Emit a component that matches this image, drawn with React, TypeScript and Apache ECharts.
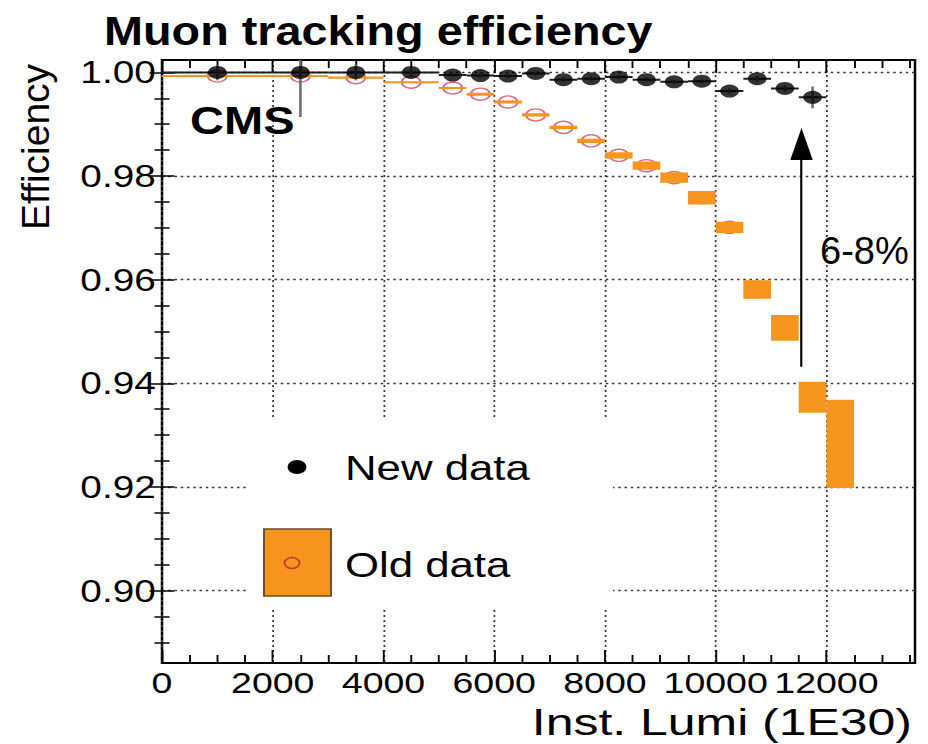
import React, { useEffect, useRef } from 'react';
import * as echarts from 'echarts';

// The figure is laid out on a narrower canvas and widened with a CSS scaleX,
// which gives the wide glyphs and oval markers of the original ROOT plot.
const STRETCH = 1.25;
const FIG_W = 928 / STRETCH;
const FIG_H = 744;
const sx = (v: number) => v / STRETCH;

const FONT = '"Liberation Sans", Arial, Helvetica, sans-serif';
const ORANGE = '#f7941e';
const RED = '#d9485a';

// ---------------- data ----------------
// Instantaneous luminosity bins (1E30 cm^-2 s^-1)
const binLow = [0, 2000, 3000, 4000, 5000, 5500, 6000, 6500, 7000, 7500, 8000, 8500, 9000, 9500, 10000, 10500, 11000, 11500, 12000];
const binHigh = [2000, 3000, 4000, 5000, 5500, 6000, 6500, 7000, 7500, 8000, 8500, 9000, 9500, 10000, 10500, 11000, 11500, 12000, 12500];
const lumi = [1000, 2500, 3500, 4500, 5250, 5750, 6250, 6750, 7250, 7750, 8250, 8750, 9250, 9750, 10250, 10750, 11250, 11750, 12250];

// New data: tracking efficiency and its uncertainty per bin
const newEff = [1.0, 1.0, 1.0, 1.0, 0.9995, 0.9994, 0.9993, 0.9998, 0.9986, 0.9988, 0.9991, 0.9986, 0.9982, 0.9983, 0.9964, 0.9988, 0.9969, 0.9952];
const newErr = [0.0015, 0.0086, 0.0015, 0.0008, 0.0004, 0.0004, 0.0004, 0.0004, 0.0004, 0.0004, 0.0004, 0.0004, 0.0004, 0.0004, 0.0005, 0.0005, 0.0006, 0.0021];

// Old data: tracking efficiency and its uncertainty per bin
const oldEff = [0.9993, 0.9993, 0.999, 0.9981, 0.997, 0.9958, 0.9943, 0.9918, 0.9894, 0.9868, 0.984, 0.982, 0.9797, 0.9758, 0.9701, 0.9581, 0.9507, 0.9373, 0.9283];
const oldErr = [0.0002, 0.0002, 0.0002, 0.0002, 0.0002, 0.0003, 0.0003, 0.0003, 0.0003, 0.0004, 0.0006, 0.0008, 0.001, 0.0013, 0.0011, 0.0018, 0.0025, 0.003, 0.0085];

// ---------------- axes ----------------
const X_MIN = 0;
const X_MAX = 13600;
const Y_MIN = 0.886;
const Y_MAX = 1.0024;
const xTickLabels = [0, 2000, 4000, 6000, 8000, 10000, 12000];
const yTickLabels = [0.9, 0.92, 0.94, 0.96, 0.98, 1.0];
const X_MINOR_STEP = 500;
const Y_MINOR_STEP = 0.005;

// Gap annotation between the two data sets
const gapArrowLumi = 11550;
const gapArrowFrom = 0.9432;
const gapArrowTo = 0.9862;
const gapLabel = '6-8%';

function minorValues(min: number, max: number, step: number, majors: number[]) {
  const out: number[] = [];
  const n0 = Math.ceil(min / step - 1e-9);
  const n1 = Math.floor(max / step + 1e-9);
  for (let k = n0; k <= n1; k++) {
    const v = +(k * step).toFixed(6);
    if (!majors.some((m) => Math.abs(m - v) < step * 1e-3)) out.push(v);
  }
  return out;
}

const xMinor = minorValues(X_MIN, X_MAX, X_MINOR_STEP, xTickLabels);
const yMinor = minorValues(Y_MIN, Y_MAX, Y_MINOR_STEP, yTickLabels);

const tickStyle = { color: '#000', width: 1.5 };
const gridLine = { show: true, lineStyle: { color: '#3a3a3a', width: 1.4, type: [2, 3] as number[] } };

function xAxis(position: 'top' | 'bottom', values: number[], length: number, main = false) {
  return {
    type: 'value',
    min: X_MIN,
    max: X_MAX,
    position,
    axisLine: { show: false },
    axisTick: { show: true, inside: true, length, lineStyle: tickStyle, customValues: values },
    axisLabel: main
      ? { show: true, customValues: values, fontFamily: FONT, fontSize: 30, color: '#000', margin: 4, formatter: (v: number) => String(v) }
      : { show: false },
    splitLine: main ? gridLine : { show: false },
  };
}

function yAxis(position: 'left' | 'right', values: number[], length: number, main = false) {
  return {
    type: 'value',
    min: Y_MIN,
    max: Y_MAX,
    position,
    axisLine: { show: false },
    axisTick: { show: true, inside: true, length, lineStyle: tickStyle, customValues: values },
    axisLabel: main
      ? { show: true, customValues: values, fontFamily: FONT, fontSize: 31, color: '#000', margin: 5, formatter: (v: number) => v.toFixed(2) }
      : { show: false },
    splitLine: main ? gridLine : { show: false },
  };
}

// Orange error boxes: bin width times +/- uncertainty
const boxRender = (params: any, api: any) => {
  const lo = api.value(0);
  const hi = api.value(1);
  const y = api.value(2);
  const e = api.value(3);
  const a = api.coord([lo, y + e]);
  const b = api.coord([hi, y - e]);
  return {
    type: 'rect',
    shape: { x: a[0], y: a[1], width: b[0] - a[0], height: b[1] - a[1] },
    style: { fill: ORANGE },
  };
};

// Black error bars: horizontal = bin width, vertical = uncertainty
const errRender = (params: any, api: any) => {
  const lo = api.value(0);
  const hi = api.value(1);
  const y = api.value(2);
  const e = api.value(3);
  const xc = api.value(4);
  const cs = params.coordSys;
  const a = api.coord([lo, y]);
  const b = api.coord([hi, y]);
  const top = api.coord([xc, y + e]);
  const bot = api.coord([xc, y - e]);
  const yTop = Math.max(top[1], cs.y);
  const yBot = Math.min(bot[1], cs.y + cs.height);
  return {
    type: 'group',
    children: [
      { type: 'line', shape: { x1: a[0], y1: a[1], x2: b[0], y2: b[1] }, style: { stroke: '#1e1e1e', lineWidth: 2 } },
      { type: 'line', shape: { x1: top[0], y1: yTop, x2: bot[0], y2: yBot }, style: { stroke: '#6a6a6a', lineWidth: 2 } },
    ],
  };
};

function buildOption() {
  return {
    animation: false,
    backgroundColor: '#fff',
    grid: {
      left: sx(162),
      right: FIG_W - sx(915),
      top: 60,
      bottom: FIG_H - 663,
      show: true,
      borderColor: '#000',
      borderWidth: 2,
      backgroundColor: 'transparent',
    },
    xAxis: [
      xAxis('bottom', xTickLabels, 13, true),
      xAxis('bottom', xMinor, 8),
      xAxis('top', xTickLabels, 13),
      xAxis('top', xMinor, 8),
    ],
    yAxis: [
      yAxis('left', yTickLabels, 10, true),
      yAxis('left', yMinor, 6),
      yAxis('right', yTickLabels, 10),
      yAxis('right', yMinor, 6),
    ],
    series: [
      {
        type: 'scatter',
        name: 'Old data',
        xAxisIndex: 0,
        yAxisIndex: 0,
        z: 2,
        silent: true,
        symbol: 'circle',
        symbolSize: [15, 12],
        itemStyle: { color: 'rgba(0,0,0,0)', borderColor: RED, borderWidth: 1.6 },
        data: oldEff.map((y, i) => [lumi[i], y]),
      },
      {
        type: 'custom',
        name: 'Old data boxes',
        xAxisIndex: 0,
        yAxisIndex: 0,
        z: 3,
        silent: true,
        clip: true,
        renderItem: boxRender,
        encode: { x: [0, 1], y: [2] },
        data: oldEff.map((y, i) => [binLow[i], binHigh[i], y, oldErr[i]]),
      },
      {
        type: 'custom',
        name: 'New data errors',
        xAxisIndex: 0,
        yAxisIndex: 0,
        z: 4,
        silent: true,
        clip: true,
        renderItem: errRender,
        encode: { x: [0, 1], y: [2] },
        data: newEff.map((y, i) => [binLow[i], binHigh[i], y, newErr[i], lumi[i]]),
      },
      {
        type: 'scatter',
        name: 'New data',
        xAxisIndex: 0,
        yAxisIndex: 0,
        z: 5,
        silent: true,
        symbol: 'circle',
        symbolSize: [15, 13],
        itemStyle: { color: '#000' },
        data: newEff.map((y, i) => [lumi[i], y]),
        markLine: {
          silent: true,
          animation: false,
          label: { show: false },
          lineStyle: { color: '#000', width: 1.7, type: 'solid' },
          data: [
            [
              { coord: [gapArrowLumi, gapArrowFrom], symbol: 'none' },
              { coord: [gapArrowLumi, gapArrowTo], symbol: 'triangle', symbolSize: [18, 32] },
            ],
          ],
        },
      },
    ],
    graphic: {
      elements: [
        // legend panel
        { type: 'rect', z: 1, silent: true, shape: { x: sx(248), y: 420, width: sx(613 - 248), height: 190 }, style: { fill: '#fff' } },
        { type: 'ellipse', z: 10, silent: true, shape: { cx: sx(297), cy: 467, rx: 7.5, ry: 7 }, style: { fill: '#000' } },
        {
          type: 'text', z: 10, silent: true, x: sx(345), y: 467.5,
          style: { text: 'New data', fontFamily: FONT, fontSize: 35, fill: '#000', align: 'left', verticalAlign: 'middle' },
        },
        {
          type: 'rect', z: 10, silent: true,
          shape: { x: sx(264), y: 529, width: sx(67), height: 67 },
          style: { fill: ORANGE, stroke: '#6e4820', lineWidth: 1.5 },
        },
        { type: 'ellipse', z: 11, silent: true, shape: { cx: sx(292), cy: 563, rx: 6, ry: 5.5 }, style: { fill: 'none', stroke: '#c8382c', lineWidth: 1.4 } },
        {
          type: 'text', z: 10, silent: true, x: sx(345), y: 564.5,
          style: { text: 'Old data', fontFamily: FONT, fontSize: 35, fill: '#000', align: 'left', verticalAlign: 'middle' },
        },
        // titles and labels
        {
          type: 'text', z: 10, silent: true, x: sx(104), y: 31, scaleX: 0.913,
          style: { text: 'Muon tracking efficiency', fontFamily: FONT, fontWeight: 'bold', fontSize: 41, fill: '#000', align: 'left', verticalAlign: 'middle' },
        },
        {
          type: 'text', z: 10, silent: true, x: sx(190), y: 121, scaleX: 0.99,
          style: { text: 'CMS', fontFamily: FONT, fontWeight: 'bold', fontSize: 38, fill: '#000', align: 'left', verticalAlign: 'middle' },
        },
        {
          type: 'text', z: 10, silent: true, x: sx(820), y: 250, scaleX: 0.78,
          style: { text: gapLabel, fontFamily: FONT, fontSize: 39, fill: '#000', align: 'left', verticalAlign: 'middle' },
        },
        {
          type: 'text', z: 10, silent: true, x: sx(35), y: 147, rotation: Math.PI / 2, scaleY: 0.8,
          style: { text: 'Efficiency', fontFamily: FONT, fontSize: 39, fill: '#000', align: 'center', verticalAlign: 'middle' },
        },
        {
          type: 'text', z: 10, silent: true, x: sx(912), y: 722, scaleX: 1.08,
          style: { text: 'Inst. Lumi (1E30)', fontFamily: FONT, fontSize: 37, fill: '#000', align: 'right', verticalAlign: 'middle' },
        },
      ],
    },
  };
}

export default function App() {
  const ref = useRef<HTMLDivElement>(null);

  useEffect(() => {
    if (!ref.current) return;
    const chart = echarts.init(ref.current, null, { renderer: 'svg', width: FIG_W, height: FIG_H });
    chart.setOption(buildOption() as any);
    return () => chart.dispose();
  }, []);

  return (
    <div
      ref={ref}
      style={{
        position: 'fixed',
        left: 0,
        top: 0,
        width: FIG_W,
        height: FIG_H,
        transform: `scaleX(${STRETCH})`,
        transformOrigin: '0 0',
        background: '#fff',
      }}
    />
  );
}
